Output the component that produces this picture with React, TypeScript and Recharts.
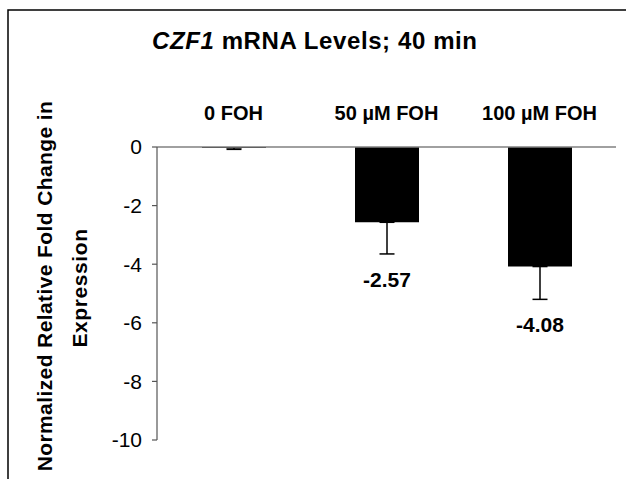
import React from 'react';
import { BarChart, Bar, XAxis, YAxis, ErrorBar, LabelList, Customized } from 'recharts';

const categories = ['0 FOH', '50 µM FOH', '100 µM FOH'];
const foldChange = [-0.03, -2.57, -4.08];
const errorDown = [0.05, 1.08, 1.12];
const valueLabels = ['', '-2.57', '-4.08'];
const yTicks = [0, -2, -4, -6, -8, -10];
const titleGene = 'CZF1';
const titleRest = ' mRNA Levels; 40 min';
const yLabelLines = ['Normalized Relative Fold Change in', 'Expression'];

const data = categories.map((c, i) => ({
  name: c,
  value: foldChange[i],
  err: [errorDown[i], 0],
  label: valueLabels[i],
}));

const FONT = "Arial, 'Liberation Sans', Helvetica, sans-serif";

const XTick = (props: any) => {
  const { x, y, payload } = props;
  return (
    <text x={x} y={y - 27} textAnchor="middle" fontFamily={FONT} fontWeight="bold" fontSize={20} fill="#000">
      {payload.value}
    </text>
  );
};

const YTick = (props: any) => {
  const { x, y, payload } = props;
  return (
    <text x={x} y={y} dy="0.355em" textAnchor="end" fontFamily={FONT} fontSize={21} fill="#000">
      {payload.value}
    </text>
  );
};

const ValueLabel = (props: any) => {
  const { x, y, width, height, value } = props;
  if (!value) return null;
  const bottom = Math.max(Number(y), Number(y) + Number(height));
  return (
    <text x={Number(x) + Number(width) / 2} y={bottom + 65} textAnchor="middle" fontFamily={FONT} fontWeight="bold" fontSize={21} fill="#000">
      {value}
    </text>
  );
};

const Decorations = () => (
  <g>
    <path d="M8,479 V10 H626" stroke="#000" strokeWidth={1.5} fill="none" />
    <text x={152} y={49} fontFamily={FONT} fontWeight="bold" fontSize={24} letterSpacing={0.6} fill="#000">
      <tspan fontStyle="italic">{titleGene}</tspan>
      <tspan>{titleRest}</tspan>
    </text>
    <text x={52} y={286} transform="rotate(-90, 52, 286)" textAnchor="middle" fontFamily={FONT} fontWeight="bold" fontSize={21} letterSpacing={0.4} fill="#000">
      {yLabelLines[0]}
    </text>
    <text x={87} y={288} transform="rotate(-90, 87, 288)" textAnchor="middle" fontFamily={FONT} fontWeight="bold" fontSize={21} letterSpacing={0.6} fill="#000">
      {yLabelLines[1]}
    </text>
  </g>
);

export default function App() {
  return (
    <div style={{ position: 'absolute', left: 0, top: 0, width: 626, height: 479, overflow: 'hidden', background: '#fff' }}>
      <BarChart width={626} height={479} data={data} margin={{ top: 107, right: 10, bottom: 39, left: 97 }}>
        <Customized component={Decorations} />
        <XAxis
          dataKey="name"
          orientation="top"
          height={40}
          tickLine={false}
          tickSize={0}
          tickMargin={0}
          axisLine={{ stroke: '#808080', strokeWidth: 1.5 }}
          tick={<XTick />}
          interval={0}
        />
        <YAxis
          domain={[-10, 0]}
          ticks={yTicks}
          width={60}
          tickSize={5}
          tickMargin={10}
          tickLine={{ stroke: '#555', strokeWidth: 1.2 }}
          axisLine={{ stroke: '#555', strokeWidth: 1.2 }}
          tick={<YTick />}
          allowDataOverflow
        />
        <Bar dataKey="value" fill="#000" barSize={64} isAnimationActive={false}>
          <ErrorBar dataKey="err" direction="y" width={7.5} stroke="#000" strokeWidth={1.5} isAnimationActive={false} />
          <LabelList dataKey="label" content={<ValueLabel />} />
        </Bar>
      </BarChart>
    </div>
  );
}
